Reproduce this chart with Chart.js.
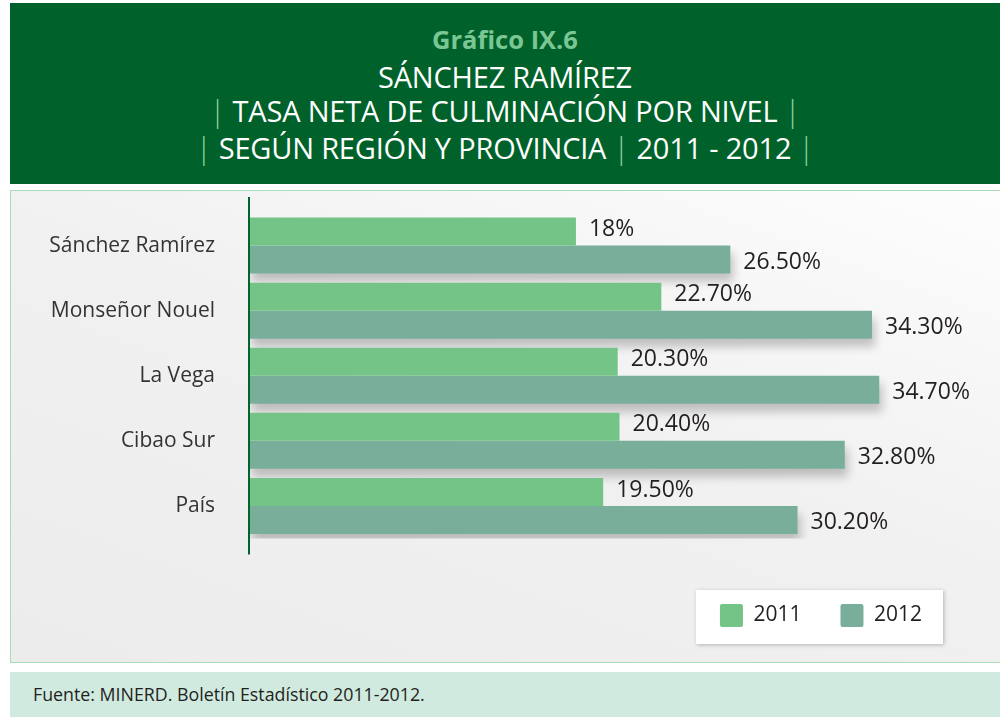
<!DOCTYPE html>
<html lang="es">
<head>
<meta charset="utf-8">
<title>Gráfico IX.6</title>
<script src="https://cdn.jsdelivr.net/npm/chart.js@4/dist/chart.umd.min.js"></script>
<style>
  html, body { margin: 0; padding: 0; background: #fff; }
  body { width: 1000px; height: 717px; position: relative; overflow: hidden; font-family: "Open Sans", sans-serif; }
  .header {
    position: absolute; left: 10px; top: 3px; width: 990px; height: 181px;
    background: #00622a; color: #fff; text-align: center;
  }
  .header .num { position: absolute; top: 19px; width: 100%; font-size: 25.5px; font-weight: 700; color: #7bc794; }
  .header .line { position: absolute; width: 100%; font-size: 29px; letter-spacing: -0.2px; }
  .header .pipe { color: #8fd4a3; font-weight: 300; }
  .panel {
    position: absolute; left: 10px; top: 190px; width: 990px; height: 473px;
    border: 1px solid #a9dbb6; border-right: none; box-sizing: border-box;
    background: linear-gradient(200deg, #fdfdfd 0%, #f1f1f1 45%, #ececec 100%);
  }
  .panel canvas { position: absolute; left: 0; top: 0; }
  .footer {
    position: absolute; left: 10px; top: 672px; width: 990px; height: 45px;
    background: #d0eadf; color: #231f20; font-size: 17.8px;
  }
  .footer span { position: absolute; left: 23px; top: 10px; }
</style>
</head>
<body>
<div class="header">
  <div class="num">Gráfico IX.6</div>
  <div class="line" style="top:54px">SÁNCHEZ RAMÍREZ</div>
  <div class="line" style="top:88px"><span class="pipe">|</span> TASA NETA DE CULMINACIÓN POR NIVEL <span class="pipe">|</span></div>
  <div class="line" style="top:125px"><span class="pipe">|</span> SEGÚN REGIÓN Y PROVINCIA <span class="pipe">|</span> 2011 - 2012 <span class="pipe">|</span></div>
</div>
<div class="panel">
  <canvas id="culminacionChart" width="990" height="473"></canvas>
</div>
<div class="footer"><span>Fuente: MINERD. Boletín Estadístico 2011-2012.</span></div>

<script>
const categories = ["Sánchez Ramírez", "Monseñor Nouel", "La Vega", "Cibao Sur", "País"];
const values2011 = [18, 22.7, 20.3, 20.4, 19.5];
const values2012 = [26.5, 34.3, 34.7, 32.8, 30.2];
const labels2011 = ["18%", "22.70%", "20.30%", "20.40%", "19.50%"];
const labels2012 = ["26.50%", "34.30%", "34.70%", "32.80%", "30.20%"];

// Drop shadow under the 2012 bars (2011 is drawn on top without one)
const barShadow = {
  id: "barShadow",
  beforeDatasetDraw(chart, args) {
    const ctx = chart.ctx;
    ctx.save();
    if (args.index === 1) {
      ctx.shadowColor = "rgba(0, 0, 0, 0.22)";
      ctx.shadowBlur = 10;
      ctx.shadowOffsetX = 3;
      ctx.shadowOffsetY = 8;
    }
  },
  afterDatasetDraw(chart) {
    chart.ctx.restore();
  },
};

// Vertical axis line and value labels
const axisAndLabels = {
  id: "axisAndLabels",
  afterDatasetsDraw(chart) {
    const ctx = chart.ctx;
    const area = chart.chartArea;
    const x0 = chart.scales.x.getPixelForValue(0);
    ctx.save();
    ctx.strokeStyle = "#00652b";
    ctx.lineWidth = 2;
    ctx.beginPath();
    ctx.moveTo(x0, area.top - 16);
    ctx.lineTo(x0, area.bottom + 16);
    ctx.stroke();

    ctx.font = "23px 'Open Sans'";
    ctx.fillStyle = "#231f20";
    ctx.textBaseline = "middle";
    const texts = [labels2011, labels2012];
    const shifts = [-2, 3];
    chart.data.datasets.forEach((ds, i) => {
      const meta = chart.getDatasetMeta(i);
      meta.data.forEach((bar, j) => {
        ctx.fillText(texts[i][j], bar.x + 13, bar.y + shifts[i]);
      });
    });
    ctx.restore();
  },
};

// White box behind the legend
const legendBox = {
  id: "legendBox",
  beforeDraw(chart) {
    const boxes = chart.legend && chart.legend.legendHitBoxes;
    if (!boxes || !boxes.length) return;
    const first = boxes[0];
    const last = boxes[boxes.length - 1];
    const left = first.left - 24;
    const right = last.left + last.width + 21;
    const top = first.top - 14;
    const bottom = first.top + first.height + 17;
    const ctx = chart.ctx;
    ctx.save();
    ctx.shadowColor = "rgba(0, 0, 0, 0.25)";
    ctx.shadowBlur = 4;
    ctx.shadowOffsetX = 1;
    ctx.shadowOffsetY = 1;
    ctx.fillStyle = "#ffffff";
    ctx.fillRect(left, top, right - left, bottom - top);
    ctx.restore();
  },
};

new Chart(document.getElementById("culminacionChart"), {
  type: "bar",
  data: {
    labels: categories,
    datasets: [
      {
        label: "2011",
        data: values2011,
        backgroundColor: "#74c488",
      },
      {
        label: "2012",
        data: values2012,
        backgroundColor: "#78ae9a",
      },
    ],
  },
  options: {
    indexAxis: "y",
    responsive: false,
    animation: false,
    categoryPercentage: 0.86,
    barPercentage: 1,
    layout: {
      padding: { left: 0, right: 40, top: 22, bottom: 27 },
    },
    scales: {
      x: {
        min: 0,
        max: 39.2,
        grid: { display: false, drawTicks: false },
        border: { display: false },
        ticks: { display: false },
        afterFit: function (scale) {
          scale.height = 26.5;
        },
      },
      y: {
        grid: { display: false, drawTicks: true, tickLength: 34 },
        border: { display: false },
        ticks: {
          padding: 0,
          color: "#333333",
          font: { family: "'Open Sans'", size: 21 },
        },
        afterFit: function (scale) {
          scale.width = 238;
        },
      },
    },
    plugins: {
      legend: {
        position: "bottom",
        align: "end",
        labels: {
          boxWidth: 23,
          boxHeight: 23,
          useBorderRadius: true,
          borderRadius: 2,
          padding: 39,
          color: "#231f20",
          font: { family: "'Open Sans'", size: 21 },
        },
      },
      tooltip: { enabled: false },
    },
  },
  plugins: [barShadow, axisAndLabels, legendBox],
});
</script>
</body>
</html>
